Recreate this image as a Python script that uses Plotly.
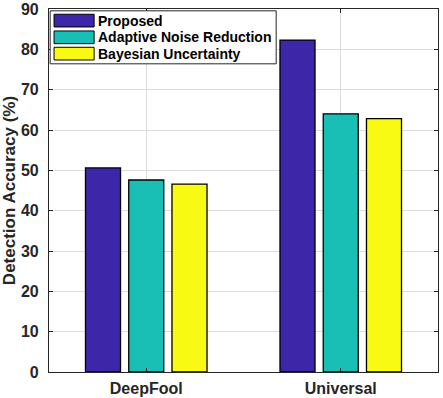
import plotly.graph_objects as go

categories = ["DeepFool", "Universal"]
series = ["Proposed", "Adaptive Noise Reduction", "Bayesian Uncertainty"]
proposed = [50.6, 82.3]
adaptive = [47.6, 64.0]
bayesian = [46.6, 62.8]
colors = ["#3E26A8", "#19BFB4", "#F8FA13"]
y_ticks = [0, 10, 20, 30, 40, 50, 60, 70, 80, 90]

fig = go.Figure()
for name, vals, col in zip(series, [proposed, adaptive, bayesian], colors):
    fig.add_trace(go.Bar(
        x=categories, y=vals, name=name,
        marker=dict(color=col, line=dict(color="black", width=1.3)),
        showlegend=False,
    ))

# legend drawn by hand so the swatches are wide like the original
row_y = [0.968, 0.922, 0.877]
fig.add_shape(type="rect", xref="paper", yref="paper",
              x0=0.003, x1=0.584, y0=0.849, y1=0.995,
              line=dict(color="#262626", width=1), fillcolor="white", layer="above")
for name, col, yc in zip(series, colors, row_y):
    fig.add_shape(type="rect", xref="paper", yref="paper",
                  x0=0.013, x1=0.116, y0=yc - 0.0175, y1=yc + 0.0175,
                  line=dict(color="black", width=1), fillcolor=col, layer="above")
    fig.add_annotation(x=0.12, y=yc, xref="paper", yref="paper",
                       text=name, showarrow=False,
                       xanchor="left", yanchor="middle",
                       font=dict(size=14, color="black", weight="bold"))

fig.update_layout(
    width=443, height=398,
    margin=dict(l=49, r=5, t=9, b=26),
    paper_bgcolor="white", plot_bgcolor="white",
    font=dict(family="Arial", color="#262626"),
    bargap=0.333, bargroupgap=0.19,
    barmode="group",
)
fig.update_xaxes(
    range=[-0.5, 1.5], showline=True, linecolor="#262626", linewidth=1.2, mirror="ticks",
    showgrid=True, gridcolor="#dcdcdc", ticks="inside", ticklen=4, tickcolor="#262626",
    tickfont=dict(size=16, color="#262626", weight="bold"), ticklabelstandoff=2,
    automargin=False,
)
fig.update_yaxes(
    range=[0, 90], tickvals=y_ticks, showline=True, linecolor="#262626", linewidth=1.2,
    mirror="ticks", showgrid=True, gridcolor="#dcdcdc", ticks="inside", ticklen=4,
    tickcolor="#262626", tickfont=dict(size=16, color="#262626", weight="bold"),
    ticklabelstandoff=6,
    title=dict(text="Detection Accuracy (%)", font=dict(size=17, color="#262626", weight="bold"),
               standoff=5),
    zeroline=False, automargin=False,
)

# drop the page's default body margin so the figure sits at the window's corner
fig.write_html("out.html", config={"displayModeBar": False},
               post_script="document.body.style.margin='0';")
